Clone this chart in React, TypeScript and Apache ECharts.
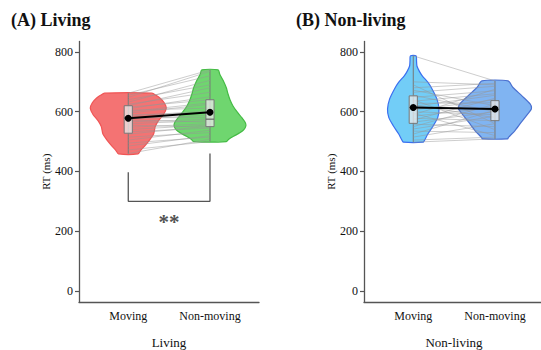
import { useEffect, useRef } from "react";
import * as echarts from "echarts";

const categories = ["Moving", "Non-moving"];
const panelTitles = ["(A) Living", "(B) Non-living"];
const panelNames = ["Living", "Non-living"];
const yTicks = [0, 200, 400, 600, 800];

// violin profiles: [RT value, half width in x-units]
const livingMovingViolin = [
  [662, 0.29], [655, 0.34], [645, 0.39], [630, 0.44], [612, 0.465], [590, 0.43],
  [570, 0.37], [550, 0.33], [525, 0.31], [505, 0.26], [485, 0.2], [470, 0.15], [459, 0.12],
];
const livingNonMovingViolin = [
  [740, 0.1], [725, 0.12], [705, 0.16], [680, 0.2], [660, 0.22], [640, 0.245], [620, 0.28],
  [600, 0.33], [580, 0.39], [565, 0.43], [553, 0.44], [540, 0.415], [530, 0.37], [518, 0.29],
  [508, 0.23], [500, 0.2],
];
const nonLivingMovingViolin = [
  [787, 0.035], [770, 0.04], [753, 0.045], [735, 0.075], [720, 0.11], [698, 0.18], [676, 0.23],
  [642, 0.29], [609, 0.315], [581, 0.3], [553, 0.245], [526, 0.18], [503, 0.135], [498, 0.12],
];
const nonLivingNonMovingViolin = [
  [703, 0.16], [681, 0.22], [653, 0.33], [626, 0.43], [609, 0.445], [592, 0.4], [564, 0.32],
  [537, 0.245], [514, 0.165], [509, 0.155],
];

// individual participants: [Moving, Non-moving]
const livingPairs = [
  [662, 740], [655, 720], [648, 735], [640, 690], [632, 705], [625, 665], [620, 680], [615, 640],
  [610, 650], [605, 612], [600, 630], [595, 625], [590, 595], [585, 603], [580, 580], [576, 588],
  [572, 565], [566, 575], [560, 570], [555, 548], [548, 560], [540, 556], [533, 545], [525, 552],
  [515, 530], [505, 538], [495, 515], [485, 520], [472, 500], [460, 508],
];
const nonLivingPairs = [
  [787, 703], [700, 690], [690, 560], [680, 695], [672, 620], [665, 685], [655, 600], [648, 670],
  [640, 540], [635, 660], [628, 630], [622, 580], [618, 655], [612, 610], [606, 640], [600, 590],
  [595, 520], [590, 675], [585, 615], [578, 570], [572, 645], [565, 600], [558, 550], [550, 625],
  [542, 585], [535, 530], [525, 605], [515, 560], [505, 515], [498, 509],
];

// box stats: [Q1, median, Q3]
const livingBoxes = [[528, 580, 620], [550, 575, 640]];
const nonLivingBoxes = [[561, 614, 653], [570, 607, 637]];
const livingMeans = [578, 598];
const nonLivingMeans = [614, 609];

const bracketA = [[1, 397], [1, 300], [2, 300], [2, 460]];
const sigPosition = [[1.5, 232]];
const sigLabel = "**";

const FONT = "Liberation Serif";
const AXIS_COLOR = "#555";
const TEXT_COLOR = "#111";

const panels = [
  {
    violins: [livingMovingViolin, livingNonMovingViolin],
    fills: ["#f47373", "#6fd66f"],
    strokes: ["#f05555", "#44bb44"],
    pairs: livingPairs,
    boxes: livingBoxes,
    means: livingMeans,
  },
  {
    violins: [nonLivingMovingViolin, nonLivingNonMovingViolin],
    fills: ["#72cdf7", "#80b4f2"],
    strokes: ["#3a6ff0", "#4a70d0"],
    pairs: nonLivingPairs,
    boxes: nonLivingBoxes,
    means: nonLivingMeans,
  },
];

function buildSeries(p: number) {
  const panel = panels[p];
  const series: any[] = [];
  series.push({
    type: "custom",
    xAxisIndex: p,
    yAxisIndex: p,
    z: 1,
    data: panel.violins.map((prof, i) => [i + 1, prof[prof.length - 1][0], prof[0][0], i]),
    encode: { x: 0, y: [1, 2] },
    renderItem: (_params: any, api: any) => {
      const x = api.value(0);
      const idx = api.value(3);
      const prof = panel.violins[idx];
      const pts: number[][] = [];
      prof.forEach((q) => pts.push(api.coord([x - q[1], q[0]])));
      for (let k = prof.length - 1; k >= 0; k--) pts.push(api.coord([x + prof[k][1], prof[k][0]]));
      const top = api.coord([x, prof[0][0]]);
      const bot = api.coord([x, prof[prof.length - 1][0]]);
      return {
        type: "group",
        children: [
          {
            type: "polygon",
            shape: { points: pts, smooth: 0.25 },
            style: { fill: panel.fills[idx], stroke: panel.strokes[idx], lineWidth: 1.2 },
          },
          {
            type: "line",
            shape: { x1: top[0], y1: top[1], x2: bot[0], y2: bot[1] },
            style: { stroke: "#777", lineWidth: 1 },
          },
        ],
      };
    },
  });
  series.push({
    type: "custom",
    xAxisIndex: p,
    yAxisIndex: p,
    z: 2,
    data: panel.pairs.map(([m, n]) => [1, m, 2, n]),
    encode: { x: [0, 2], y: [1, 3] },
    renderItem: (_params: any, api: any) => {
      const a = api.coord([api.value(0), api.value(1)]);
      const b = api.coord([api.value(2), api.value(3)]);
      return {
        type: "line",
        shape: { x1: a[0], y1: a[1], x2: b[0], y2: b[1] },
        style: { stroke: "rgba(150,150,150,0.6)", lineWidth: 0.8 },
      };
    },
  });
  series.push({
    type: "custom",
    xAxisIndex: p,
    yAxisIndex: p,
    z: 3,
    data: panel.boxes.map((b, i) => [i + 1, b[0], b[1], b[2]]),
    encode: { x: 0, y: [1, 2, 3] },
    renderItem: (_params: any, api: any) => {
      const x = api.value(0);
      const hw = 0.05;
      const tl = api.coord([x - hw, api.value(3)]);
      const br = api.coord([x + hw, api.value(1)]);
      const ml = api.coord([x - hw, api.value(2)]);
      const mr = api.coord([x + hw, api.value(2)]);
      return {
        type: "group",
        children: [
          {
            type: "rect",
            shape: { x: tl[0], y: tl[1], width: br[0] - tl[0], height: br[1] - tl[1] },
            style: { fill: "rgba(235,235,235,0.75)", stroke: "#777", lineWidth: 1 },
          },
          {
            type: "line",
            shape: { x1: ml[0], y1: ml[1], x2: mr[0], y2: mr[1] },
            style: { stroke: "#666", lineWidth: 1.2 },
          },
        ],
      };
    },
  });
  series.push({
    type: "line",
    xAxisIndex: p,
    yAxisIndex: p,
    z: 4,
    data: panel.means.map((v, i) => [i + 1, v]),
    symbol: "circle",
    symbolSize: 7,
    itemStyle: { color: "#000" },
    lineStyle: { color: "#000", width: 2 },
  });
  return series;
}

export default function App() {
  const ref = useRef<HTMLDivElement>(null);
  useEffect(() => {
    if (!ref.current) return;
    const chart = echarts.init(ref.current, undefined, { renderer: "svg" });
    const grids = [
      { left: 79, top: 41.5, width: 180, height: 260.5, outerBoundsMode: "none", containLabel: false },
      { left: 364, top: 41.5, width: 180, height: 260.5, outerBoundsMode: "none", containLabel: false },
    ];
    const xAxes = [0, 1].map((p) => ({
      type: "value",
      gridIndex: p,
      min: 0.397,
      max: 2.6,
      splitLine: { show: false },
      axisTick: { show: false },
      axisLine: { show: true, onZero: false, lineStyle: { color: AXIS_COLOR, width: 1.3 } },
      axisLabel: {
        customValues: [1, 2],
        formatter: (v: number) => categories[Math.round(v) - 1] ?? "",
        color: TEXT_COLOR,
        fontFamily: FONT,
        fontSize: 12,
        margin: 8,
      },
      name: panelNames[p],
      nameLocation: "middle",
      nameGap: 34,
      nameTextStyle: { color: TEXT_COLOR, fontFamily: FONT, fontSize: 13 },
    }));
    const yAxes = [0, 1].map((p) => ({
      type: "value",
      gridIndex: p,
      min: -37,
      max: 835,
      splitLine: { show: false },
      axisLine: { show: true, lineStyle: { color: AXIS_COLOR, width: 1.3 } },
      axisTick: { show: true, customValues: yTicks, length: 4, lineStyle: { color: AXIS_COLOR, width: 1.2 } },
      axisLabel: {
        customValues: yTicks,
        color: TEXT_COLOR,
        fontFamily: FONT,
        fontSize: 12,
        margin: 6,
      },
      name: "RT (ms)",
      nameLocation: "middle",
      nameGap: 28,
      nameTextStyle: { color: TEXT_COLOR, fontFamily: FONT, fontSize: 11 },
    }));
    const series: any[] = [...buildSeries(0), ...buildSeries(1)];
    series.push({
      type: "line",
      xAxisIndex: 0,
      yAxisIndex: 0,
      data: bracketA,
      symbol: "none",
      lineStyle: { color: AXIS_COLOR, width: 1.3 },
      z: 1,
    });
    series.push({
      type: "scatter",
      xAxisIndex: 0,
      yAxisIndex: 0,
      data: sigPosition,
      symbolSize: 1,
      itemStyle: { color: "rgba(0,0,0,0)" },
      label: {
        show: true,
        position: "inside",
        formatter: sigLabel,
        fontFamily: FONT,
        fontSize: 21,
        fontWeight: "bold",
        color: "#222",
      },
    });
    chart.setOption({
      animation: false,
      backgroundColor: "#fff",
      title: [
        {
          text: panelTitles[0],
          left: 6,
          top: 6,
          textStyle: { fontFamily: FONT, fontSize: 18, fontWeight: "bold", color: "#111" },
        },
        {
          text: panelTitles[1],
          left: 291,
          top: 6,
          textStyle: { fontFamily: FONT, fontSize: 18, fontWeight: "bold", color: "#111" },
        },
      ],
      grid: grids,
      xAxis: xAxes,
      yAxis: yAxes,
      series,
    });
    return () => chart.dispose();
  }, []);
  return (
    <div
      ref={ref}
      style={{ position: "fixed", left: 0, top: 0, width: 541, height: 350, background: "#fff" }}
    />
  );
}
